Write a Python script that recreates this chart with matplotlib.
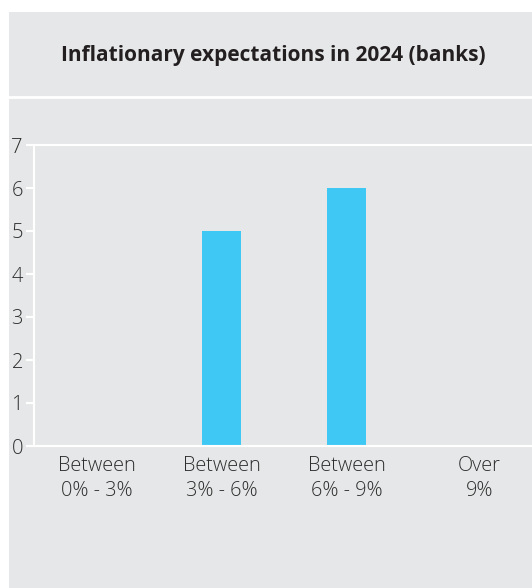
import matplotlib
matplotlib.use('Agg')
import matplotlib.pyplot as plt
import matplotlib.transforms as mtransforms
from matplotlib.patches import Rectangle
from matplotlib.lines import Line2D

categories = ['Between\n0% - 3%', 'Between\n3% - 6%', 'Between\n6% - 9%', 'Over\n9%']
banks = [0, 5, 6, 0]
yticks = [0, 1, 2, 3, 4, 5, 6, 7]

bg = '#e6e7e8'
bar_color = '#40c8f4'
text_color = '#2e2e2e'

plt.rcParams['font.family'] = ['Open Sans', 'DejaVu Sans']

fig = plt.figure(figsize=(5.32, 5.88), dpi=100)
fig.patch.set_facecolor('white')
W, H = 532, 588

# grey panel with white margin at top and left
fig.patches.append(Rectangle((9 / W, 0), 1, (H - 12) / H, transform=fig.transFigure,
                             facecolor=bg, edgecolor='none', zorder=-2))
fig.lines.append(Line2D([9 / W, 1], [(H - 97) / H] * 2, transform=fig.transFigure,
                        color='white', lw=2, zorder=-1))

fig.text(273 / W, (H - 55) / H, 'Inflationary expectations in 2024 (banks)',
         ha='center', va='center', fontsize=15, fontweight='bold', color='#231f20')

ax = fig.add_axes([34 / W, (H - 446) / H, 500 / W, 301 / H])
ax.set_zorder(3)
ax.patch.set_visible(False)

ax.bar(range(len(categories)), banks, width=0.312, color=bar_color, zorder=2)
ax.set_xlim(-0.5, 3.5)
ax.set_ylim(0, 7)
ax.set_yticks(yticks)
ax.set_xticks(range(len(categories)))
ax.set_xticklabels(categories, fontsize=14.3, color=text_color, linespacing=1.3,
                   fontweight='light')
ax.tick_params(axis='x', length=0, pad=7.5)
ax.tick_params(axis='y', length=6, width=1.5, color='white', labelsize=14.5,
               labelcolor=text_color, pad=2)
for lab in ax.get_yticklabels():
    lab.set_fontweight('light')

# last category label sits a little right of its slot
last = ax.get_xticklabels()[-1]
last.set_transform(last.get_transform() + mtransforms.ScaledTranslation(8 / 100, 0, fig.dpi_scale_trans))

for side in ['left', 'bottom', 'top']:
    ax.spines[side].set_color('white')
    ax.spines[side].set_linewidth(1.5)
ax.spines['right'].set_visible(False)

fig.savefig('out.png', dpi=100, facecolor=fig.get_facecolor())
